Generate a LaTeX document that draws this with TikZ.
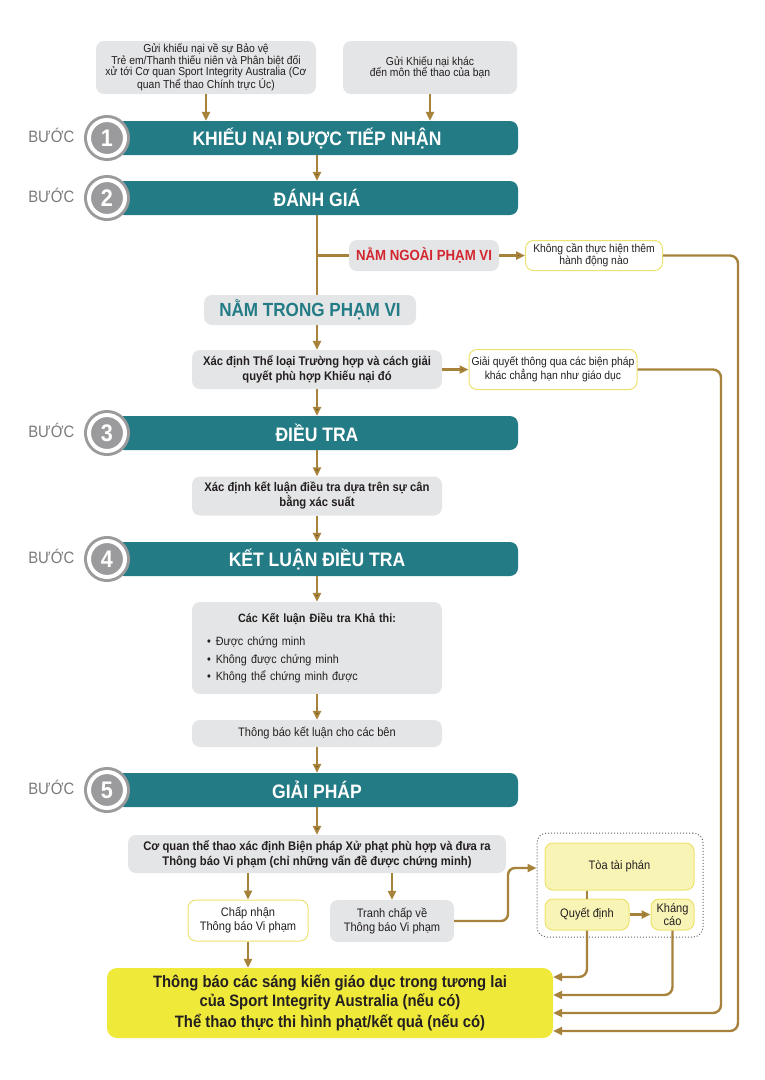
\documentclass[tikz,border=0pt]{standalone}
\usepackage{fontspec}
\setmainfont{Liberation Sans}[FakeStretch=0.9]
\usepackage{tikz}
\usetikzlibrary{arrows.meta, positioning}
\definecolor{barteal}{HTML}{237B85}
\definecolor{boxgrey}{HTML}{E4E5E6}
\definecolor{stepgrey}{HTML}{9B9B9D}
\definecolor{labelgrey}{HTML}{7A7A7C}
\definecolor{flowgold}{HTML}{A6823B}
\definecolor{edgeyellow}{HTML}{EDE26E}
\definecolor{paleyellow}{HTML}{F8F4B5}
\definecolor{finalyellow}{HTML}{EFEA3A}
\definecolor{outred}{HTML}{D22630}
\definecolor{textdark}{HTML}{231F20}

\begin{document}
\begin{tikzpicture}[x=1pt,y=-1pt,>={Triangle[length=9pt,width=8pt]}]
  \tikzstyle{every node}=[align=center,text=textdark,inner sep=2pt]
  \tikzstyle{grey box}=[rectangle,rounded corners=8pt,fill=boxgrey]
  \tikzstyle{white box}=[rectangle,rounded corners=8pt,fill=white,draw=edgeyellow,line width=1pt]
  \tikzstyle{pale box}=[rectangle,rounded corners=8pt,fill=paleyellow,draw=edgeyellow,line width=1pt]
  \tikzstyle{step bar}=[rectangle,rounded corners=8pt,fill=barteal,minimum width=402pt,minimum height=34pt,
    text=white,font=\bfseries\fontsize{19.5}{21}\selectfont]
  \tikzstyle{step circle}=[circle,minimum size=36pt,inner sep=0pt,fill=stepgrey,draw=stepgrey,line width=3pt,
    double=white,double distance=4pt,text=white,font=\bfseries\fontsize{24}{24}\selectfont]
  \tikzstyle{step label}=[text=labelgrey,font=\fontsize{16.5}{17}\selectfont]
  \tikzstyle{small}=[font=\fontsize{11.5}{11.5}\selectfont]
  \tikzstyle{plain}=[font=\fontsize{12.3}{14}\selectfont]
  \tikzstyle{strong}=[font=\bfseries\fontsize{12.5}{15}\selectfont]
  \tikzstyle{flow}=[draw=flowgold,line width=2.4pt]

  \useasboundingbox (0,0) rectangle (764,1080);

  \node[grey box,small,minimum width=220pt,minimum height=53pt] (src_1) at (206,67.5)
    {Gửi khiếu nại về sự Bảo vệ\\Trẻ em/Thanh thiếu niên và Phân biệt đối\\xử tới Cơ quan Sport Integrity Australia (Cơ\\quan Thể thao Chính trực Úc)};
  \node[grey box,small,minimum width=174pt,minimum height=53pt] (src_2) at (430,67.5)
    {Gửi Khiếu nại khác\\đến môn thể thao của bạn};

  \node[step bar] (bar_1) at (317,138) {KHIẾU NẠI ĐƯỢC TIẾP NHẬN};
  \node[step bar] (bar_2) at (317,198) {ĐÁNH GIÁ};
  \node[step bar] (bar_3) at (317,433) {ĐIỀU TRA};
  \node[step bar] (bar_4) at (317,559) {KẾT LUẬN ĐIỀU TRA};
  \node[step bar] (bar_5) at (317,790) {GIẢI PHÁP};

  \node[step circle] (c_1) at (107,138) {1};
  \node[step circle] (c_2) at (107,198) {2};
  \node[step circle] (c_3) at (107,433) {3};
  \node[step circle] (c_4) at (107,559) {4};
  \node[step circle] (c_5) at (107,790) {5};

  \node[step label] (lab_1) [left=11pt of c_1, yshift=3pt] {BƯỚC};
  \node[step label] (lab_2) [left=11pt of c_2, yshift=3pt] {BƯỚC};
  \node[step label] (lab_3) [left=11pt of c_3, yshift=3pt] {BƯỚC};
  \node[step label] (lab_4) [left=11pt of c_4, yshift=3pt] {BƯỚC};
  \node[step label] (lab_5) [left=11pt of c_5, yshift=3pt] {BƯỚC};

  \node[grey box,minimum width=150pt,minimum height=31pt,text=outred,font=\bfseries\fontsize{14.7}{16}\selectfont]
    (range_out) at (424,255.5) {NẰM NGOÀI PHẠM VI};
  \node[white box,small,minimum width=137pt,minimum height=30pt] (no_action) at (594,255.5)
    {Không cần thực hiện thêm\\hành động nào};
  \node[grey box,minimum width=212pt,minimum height=30pt,text=barteal,font=\bfseries\fontsize{19}{20}\selectfont]
    (range_in) at (310,310) {NẰM TRONG PHẠM VI};
  \node[grey box,strong,minimum width=250pt,minimum height=39pt] (det) at (317,369.5)
    {Xác định Thể loại Trường hợp và cách giải\\quyết phù hợp Khiếu nại đó};
  \node[white box,small,minimum width=168pt,minimum height=40pt] (other) at (553,369.5)
    {Giải quyết thông qua các biện pháp\\khác chẳng hạn như giáo dục};

  \node[grey box,strong,minimum width=250pt,minimum height=39pt] (bal) at (317,496)
    {Xác định kết luận điều tra dựa trên sự cân\\bằng xác suất};
  \node[grey box,minimum width=250pt,minimum height=92pt,text width=220pt,align=left,
    font=\fontsize{12}{17.5}\selectfont] (find) at (317,648)
    {\makebox[220pt]{\bfseries Các Kết luận Điều tra Khả thi:}\\[6pt]
     •\hspace{5pt}Được chứng minh\\•\hspace{5pt}Không được chứng minh\\•\hspace{5pt}Không thể chứng minh được};
  \node[grey box,plain,minimum width=250pt,minimum height=27pt] (notify) at (317,733.5)
    {Thông báo kết luận cho các bên};

  \node[grey box,strong,minimum width=378pt,minimum height=38pt] (sanc) at (317,854)
    {Cơ quan thể thao xác định Biện pháp Xử phạt phù hợp và đưa ra\\Thông báo Vi phạm (chỉ những vấn đề được chứng minh)};
  \node[white box,plain,minimum width=120pt,minimum height=41pt] (accept) at (248,920.5)
    {Chấp nhận\\Thông báo Vi phạm};
  \node[grey box,plain,minimum width=124pt,minimum height=42pt] (dispute) at (392,921)
    {Tranh chấp về\\Thông báo Vi phạm};

  \node[rectangle,rounded corners=10pt,draw=textdark!70,dotted,line width=1pt,
    minimum width=166pt,minimum height=104pt] (panel) at (620,885) {};
  \node[pale box,plain,minimum width=149pt,minimum height=47pt] (trib) at (619.5,866.5) {Tòa tài phán};
  \node[pale box,plain,minimum width=84pt,minimum height=31pt] (decision) at (587,914.5) {Quyết định};
  \node[pale box,minimum width=43pt,minimum height=31pt,inner sep=1pt,
    font=\fontsize{12.3}{12.5}\selectfont] (appeal) at (672.5,914.5) {Kháng\\cáo};

  \node[rectangle,rounded corners=10pt,fill=finalyellow,minimum width=446pt,minimum height=70pt,
    font=\bfseries\fontsize{16.5}{18.5}\selectfont] (fin) at (330,1003)
    {Thông báo các sáng kiến giáo dục trong tương lai\\của Sport Integrity Australia (nếu có)\\[3pt]Thể thao thực thi hình phạt/kết quả (nếu có)};

  \path[flow,->]
  (bar_1)       edge (bar_2)
  (range_out)   edge (no_action)
  (det)         edge (other)
  (det)         edge (bar_3)
  (bar_3)       edge (bal)
  (bal)         edge (bar_4)
  (bar_4)       edge (find)
  (find)        edge (notify)
  (notify)      edge (bar_5)
  (bar_5)       edge (sanc)
  (decision)    edge (appeal)
  ;

  \draw[flow,->] (src_1.south) -- (src_1.south |- bar_1.north);
  \draw[flow,->] (src_2.south) -- (src_2.south |- bar_1.north);
  \draw[flow,->] (det.north |- range_in.south) -- (det.north);
  \draw[flow,->] (accept.north |- sanc.south) -- (accept.north);
  \draw[flow,->] (dispute.north |- sanc.south) -- (dispute.north);
  \draw[flow,->] (accept.south) -- (accept.south |- fin.north);
  \draw[flow] (bar_2.south) -- (bar_2.south |- range_in.north);
  \draw[flow] (bar_2.south |- range_out.west) -- (range_out.west);
  \draw[flow] (decision.north |- trib.south) -- (decision.north);

  \draw[flow,->,rounded corners=8pt] (no_action.east) -| (738,1031) -- (fin.east |- 0,1031);
  \draw[flow,->,rounded corners=8pt] (other.east) -| (721,1013) -- (fin.east |- 0,1013);
  \draw[flow,->,rounded corners=8pt] (appeal.south) |- (fin.east |- 0,995);
  \draw[flow,->,rounded corners=8pt] (decision.south) |- (fin.east |- 0,977);
  \draw[flow,->,rounded corners=7pt] (dispute.east) -| (508,868) -- (panel.west |- 0,868);
\end{tikzpicture}
\end{document}
